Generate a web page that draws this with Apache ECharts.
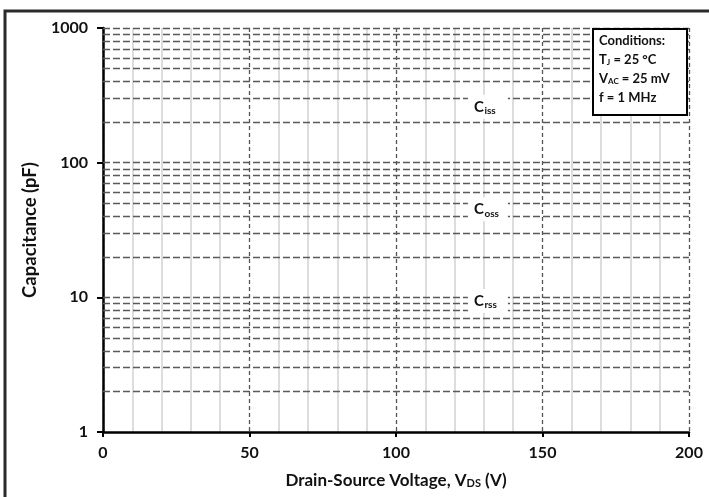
<!DOCTYPE html>
<html>
<head>
<meta charset="utf-8">
<script src="https://cdn.jsdelivr.net/npm/echarts@6/dist/echarts.min.js"></script>
<style>
  html, body { margin: 0; padding: 0; background: #fff; }
  #chart { width: 709px; height: 497px; }
</style>
</head>
<body>
<div id="chart"></div>
<script>
// Axis ranges and ticks
const voltageTicks = [0, 50, 100, 150, 200];
const capTicks = [1, 10, 100, 1000];

// Horizontal reference levels (log grid: 2..9 per decade plus decades)
const gridLevels = [
  2, 3, 4, 5, 6, 7, 8, 9, 10,
  20, 30, 40, 50, 60, 70, 80, 90, 100,
  200, 300, 400, 500, 600, 700, 800, 900, 1000
];

// Capacitance curve labels
const curveSubs = ['iss', 'oss', 'rss'];
const labelVoltage = [130, 130, 130];
const labelCap = [260, 45, 9.4];

const FONT = 'Lato';
const INK = '#111';

const chart = echarts.init(document.getElementById('chart'), null, { renderer: 'canvas' });

const frameGraphics = [
  {
    // outer frame
    type: 'rect',
    shape: { x: 5, y: 11, width: 800, height: 600 },
    style: { fill: 'none', stroke: '#2a2a2a', lineWidth: 3 },
    silent: true,
    z: 100
  },
  {
    // conditions box
    type: 'rect',
    shape: { x: 593, y: 29, width: 94, height: 86 },
    style: { fill: '#fff', stroke: '#000', lineWidth: 2 },
    z: 50
  },
  {
    type: 'text',
    left: 599,
    top: 34,
    z: 51,
    style: {
      text: '{n|Conditions:}\n{n|T}{s|J}{n| = 25 °C}\n{n|V}{s|AC}{n| = 25 mV}\n{n|f = 1 MHz}',
      rich: {
        n: { fontFamily: FONT, fontWeight: 'bold', fontSize: 13, fill: INK, lineHeight: 19, verticalAlign: 'bottom' },
        s: { fontFamily: FONT, fontWeight: 'bold', fontSize: 8, fill: INK, lineHeight: 12, verticalAlign: 'bottom' }
      }
    }
  }
];

const option = {
  backgroundColor: '#fff',
  animation: false,
  grid: { left: 103, right: 20, top: 28, bottom: 65, containLabel: false },
  xAxis: {
    type: 'value',
    min: voltageTicks[0],
    max: voltageTicks[voltageTicks.length - 1],
    interval: 50,
    name: '{n|Drain-Source Voltage, V}{s|DS}{n| (V)}',
    nameLocation: 'middle',
    nameGap: 37,
    nameTextStyle: {
      fontFamily: FONT, fontWeight: 'bold', fontSize: 17, color: INK,
      rich: {
        n: { fontFamily: FONT, fontWeight: 'bold', fontSize: 17, color: INK, lineHeight: 20, verticalAlign: 'bottom' },
        s: { fontFamily: FONT, fontWeight: 'bold', fontSize: 11, color: INK, lineHeight: 12, verticalAlign: 'bottom' }
      }
    },
    axisLine: { show: true, onZero: false, lineStyle: { color: '#000', width: 2.5 } },
    axisTick: { show: true, length: 5, inside: false, lineStyle: { color: '#000', width: 2 } },
    axisLabel: { margin: 13, fontFamily: FONT, fontWeight: 'bold', fontSize: 16, color: INK },
    splitLine: { show: true, lineStyle: { color: '#555', width: 1.3, type: [4, 3] } },
    minorTick: { show: false, splitNumber: 5 },
    minorSplitLine: { show: true, lineStyle: { color: '#d2d2d2', width: 1.5 } }
  },
  yAxis: {
    type: 'log',
    logBase: 10,
    min: capTicks[0],
    max: capTicks[capTicks.length - 1],
    name: 'Capacitance (pF)',
    nameLocation: 'middle',
    nameGap: 58,
    nameRotate: 90,
    nameTextStyle: { fontFamily: FONT, fontWeight: 'bold', fontSize: 18.5, color: INK },
    axisLine: { show: true, lineStyle: { color: '#000', width: 2.5 } },
    axisTick: { show: true, length: 6, lineStyle: { color: '#000', width: 2 } },
    axisLabel: {
      margin: 15, fontFamily: FONT, fontWeight: 'bold', fontSize: 16, color: INK,
      formatter: v => String(Math.round(v))
    },
    splitLine: { show: false }
  },
  series: [
    {
      // horizontal dashed log grid
      type: 'line',
      data: [],
      silent: true,
      z: 1,
      markLine: {
        silent: true,
        symbol: ['none', 'none'],
        label: { show: false },
        lineStyle: { color: '#5a5a5a', width: 1.4, type: [7, 3] },
        data: gridLevels.map(v => ({ yAxis: v }))
      }
    }
  ],
  graphic: frameGraphics
};

chart.setOption(option);

// Curve labels placed through the axis scales, on white patches
const curveLabels = [];
curveSubs.forEach((s, i) => {
  const pt = chart.convertToPixel({ gridIndex: 0 }, [labelVoltage[i], labelCap[i]]);
  curveLabels.push({
    type: 'rect',
    silent: true,
    z: 40,
    shape: { x: pt[0] - 16, y: pt[1] - 12, width: 40, height: 24 },
    style: { fill: '#fff' }
  });
  curveLabels.push({
    type: 'text',
    x: pt[0] - 10,
    y: pt[1],
    z: 41,
    silent: true,
    style: {
      text: 'C',
      fontFamily: FONT, fontWeight: 'bold', fontSize: 15, fill: INK,
      align: 'left',
      verticalAlign: 'middle'
    }
  });
  curveLabels.push({
    type: 'text',
    x: pt[0] + 0.5,
    y: pt[1] + 4,
    z: 41,
    silent: true,
    style: {
      text: s,
      fontFamily: FONT, fontWeight: 'bold', fontSize: 10, fill: INK,
      align: 'left',
      verticalAlign: 'middle'
    }
  });
});

chart.setOption({ graphic: frameGraphics.concat(curveLabels) });
</script>
</body>
</html>
